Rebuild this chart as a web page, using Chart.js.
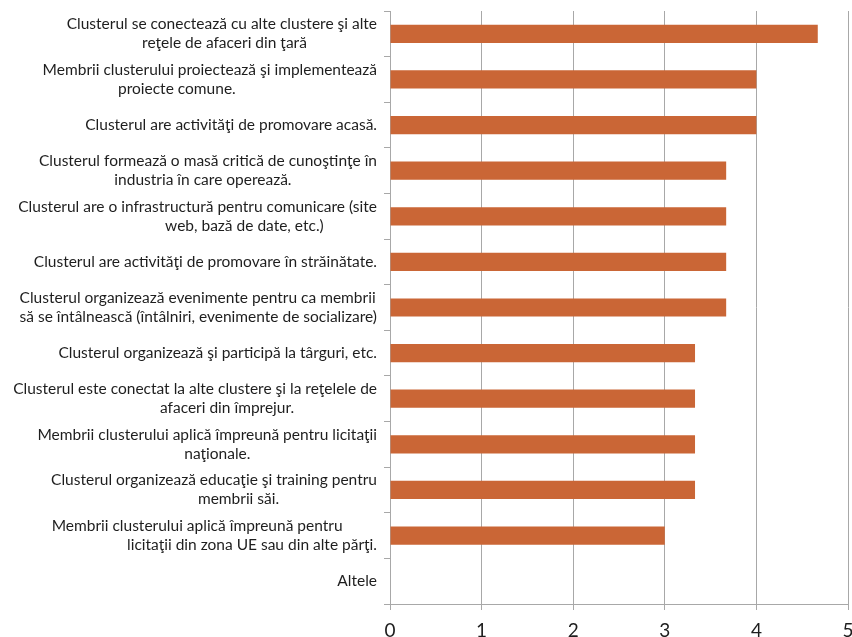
<!DOCTYPE html>
<html>
<head>
<meta charset="utf-8">
<script src="https://cdn.jsdelivr.net/npm/chart.js"></script>
<style>
  html, body { margin: 0; padding: 0; background: #fff; }
  canvas { display: block; }
</style>
</head>
<body>
<canvas id="myCanvas" width="852" height="637"></canvas>
<script>
'use strict';

// activitati ale clusterului (fiecare element = randurile etichetei)
var activitati = [
    ["Clusterul se conectează cu alte clustere şi alte", "                   reţele de afaceri din ţară"],
    ["Membrii clusterului proiectează şi implementează", "                   proiecte comune."],
    ["Clusterul are activităţi de promovare acasă."],
    ["Clusterul formează o masă critică de cunoştinţe în", "                   industria în care operează."],
    ["Clusterul are o infrastructură pentru comunicare (site", "                                     web, bază de date, etc.)"],
    ["Clusterul are activităţi de promovare în străinătate."],
    ["Clusterul organizează evenimente pentru ca membrii", "să se întâlnească (întâlniri, evenimente de socializare)"],
    ["Clusterul organizează şi participă la târguri, etc."],
    ["Clusterul este conectat la alte clustere şi la reţelele de", "                                     afaceri din împrejur."],
    ["Membrii clusterului aplică împreună pentru licitaţii", "                                     naţionale."],
    ["Clusterul organizează educaţie şi training pentru", "                                     membrii săi."],
    ["Membrii clusterului aplică împreună pentru", "                   licitaţii din zona UE sau din alte părţi."],
    ["Altele"]
];

// scor mediu pe activitate
var scoruri = [4.67, 4, 4, 3.67, 3.67, 3.67, 3.67, 3.33, 3.33, 3.33, 3.33, 3, 0];

// valorile axei orizontale
var gradatii = [0, 1, 2, 3, 4, 5];

var labelFont = '15.5px Lato';

// etichetele pe mai multe randuri: blocul aliniat la dreapta, randurile de la stanga blocului
var etichetePlugin = {
    id: 'etichete',
    afterDraw: function(chart) {
        var ctx = chart.ctx;
        var yScale = chart.scales.y;
        var right = chart.chartArea.left - 13;
        var lineH = 19;
        ctx.save();
        ctx.font = labelFont;
        ctx.fillStyle = '#1e1e1e';
        ctx.textAlign = 'left';
        ctx.textBaseline = 'middle';
        activitati.forEach(function(lines, i) {
            var cy = yScale.getPixelForValue(i);
            var w = 0;
            lines.forEach(function(l) { w = Math.max(w, ctx.measureText(l).width); });
            var x = right - w;
            var y0 = cy - (lines.length - 1) * lineH / 2;
            lines.forEach(function(l, j) {
                ctx.fillText(l, x, y0 + j * lineH);
            });
        });
        ctx.restore();
    }
};

var ctx = document.getElementById("myCanvas").getContext("2d");
var myChart = new Chart(ctx, {
    type: 'bar',
    data: {
        labels: activitati,
        datasets: [{
            data: scoruri,
            backgroundColor: '#CA6636',
            borderWidth: 0,
            categoryPercentage: 1,
            barPercentage: 0.4
        }]
    },
    options: {
        indexAxis: 'y',
        responsive: false,
        animation: false,
        layout: { padding: { top: 11, right: 4, left: 0, bottom: 0 } },
        plugins: {
            legend: { display: false },
            tooltip: { enabled: false }
        },
        scales: {
            x: {
                min: 0,
                max: 5,
                afterBuildTicks: function(scale) {
                    scale.ticks = gradatii.map(function(v) { return { value: v }; });
                },
                afterFit: function(scale) {
                    scale.height = 33;
                    scale.paddingLeft = 0;
                    scale.paddingRight = 0;
                },
                grid: {
                    color: '#A8A8A8',
                    lineWidth: 1,
                    tickLength: 6,
                    drawTicks: true
                },
                border: { color: '#A8A8A8' },
                ticks: {
                    color: '#1e1e1e',
                    font: { family: 'Lato', size: 19 },
                    padding: 9,
                    maxRotation: 0,
                    autoSkip: false
                }
            },
            y: {
                afterFit: function(scale) {
                    scale.width = 390;
                    scale.paddingTop = 0;
                    scale.paddingBottom = 0;
                },
                grid: {
                    offset: true,
                    drawOnChartArea: false,
                    color: '#A8A8A8',
                    tickLength: 6
                },
                border: { color: '#A8A8A8' },
                ticks: { display: false }
            }
        }
    },
    plugins: [etichetePlugin]
});
</script>
</body>
</html>
